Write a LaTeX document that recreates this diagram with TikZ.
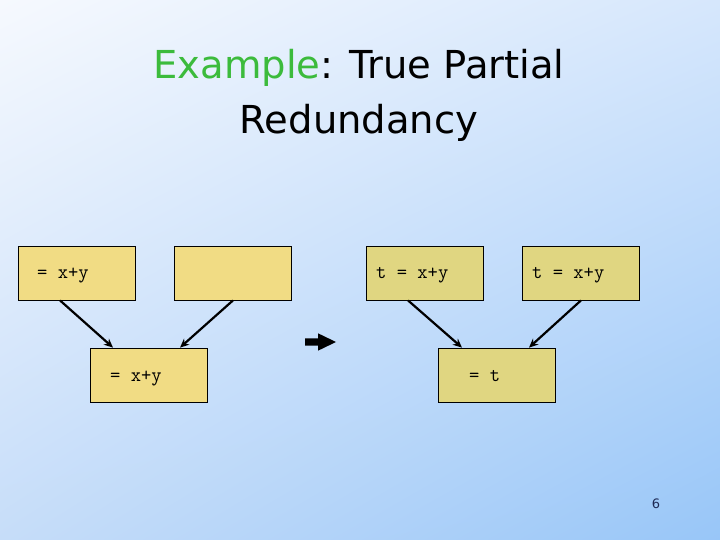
\documentclass[tikz,border=0pt]{standalone}
\usepackage{fontspec}
\setmainfont{DejaVu Sans}
\usetikzlibrary{arrows.meta,shadings}
\definecolor{bgA}{HTML}{F6F9FE}
\definecolor{bgB}{HTML}{D6E7FC}
\definecolor{bgC}{HTML}{C6DDF9}
\definecolor{bgD}{HTML}{98C6F8}
\definecolor{boxL}{HTML}{F1DC84}
\definecolor{boxR}{HTML}{E0D681}
\definecolor{titlegreen}{HTML}{3CBB3C}
\definecolor{pagenum}{HTML}{1E2A55}
\tikzset{
  cfgbox/.style={draw=black, line width=0.8pt, minimum width=117pt, minimum height=54pt, inner sep=0pt},
  code/.style={anchor=base west, inner sep=0pt, font=\ttfamily\fontsize{20}{24}\selectfont},
  flow/.style={line width=2.2pt, -{Stealth[length=9pt,width=8pt]}},
}
\begin{document}
\begin{tikzpicture}[x=1pt,y=-1pt]
\useasboundingbox (0,0) rectangle (720,540);
\shade[upper left=bgA, upper right=bgB, lower left=bgC, lower right=bgD] (0,0) rectangle (720,540);
% title
\node[anchor=base, font=\fontsize{38.5}{46}\selectfont, inner sep=0pt] (t1) at (359,79)
  {\textcolor{titlegreen}{Example}: True Partial};
\node[anchor=base, font=\fontsize{38.5}{46}\selectfont, inner sep=0pt] (t2) at (359,134) {Redundancy};
% left graph
\node[cfgbox, fill=boxL] (a) at (76.5,273) {};
\node[cfgbox, fill=boxL] (b) at (232.5,273) {};
\node[cfgbox, fill=boxL] (c) at (148.5,375) {};
\node[code] (atx) at (37,278.5) {= x+y};
\node[code] (ctx) at (110,381.5) {= x+y};
\draw[flow] (a.south -| 60,0) -- (c.north -| 113,0);
\draw[flow] (b.south -| 233,0) -- (c.north -| 180,0);
% block arrow
\fill[black] (305,338.3) -- (318,338.3) -- (318,333.3) -- (336,342) -- (318,350.7)
  -- (318,345.7) -- (305,345.7) -- cycle;
% right graph
\node[cfgbox, fill=boxR] (d) at (424.5,273) {};
\node[cfgbox, fill=boxR] (e) at (580.5,273) {};
\node[cfgbox, fill=boxR] (f) at (496.5,375) {};
\node[code] (dtx) at (376,278.5) {t = x+y};
\node[code] (etx) at (532,278.5) {t = x+y};
\node[code] (ftx) at (469,381.5) {= t};
\draw[flow] (d.south -| 408,0) -- (f.north -| 462,0);
\draw[flow] (e.south -| 581,0) -- (f.north -| 529,0);
% page number
\node[font=\fontsize{13}{15}\selectfont, text=pagenum] (pn) at (656,504) {6};
\end{tikzpicture}
\end{document}
